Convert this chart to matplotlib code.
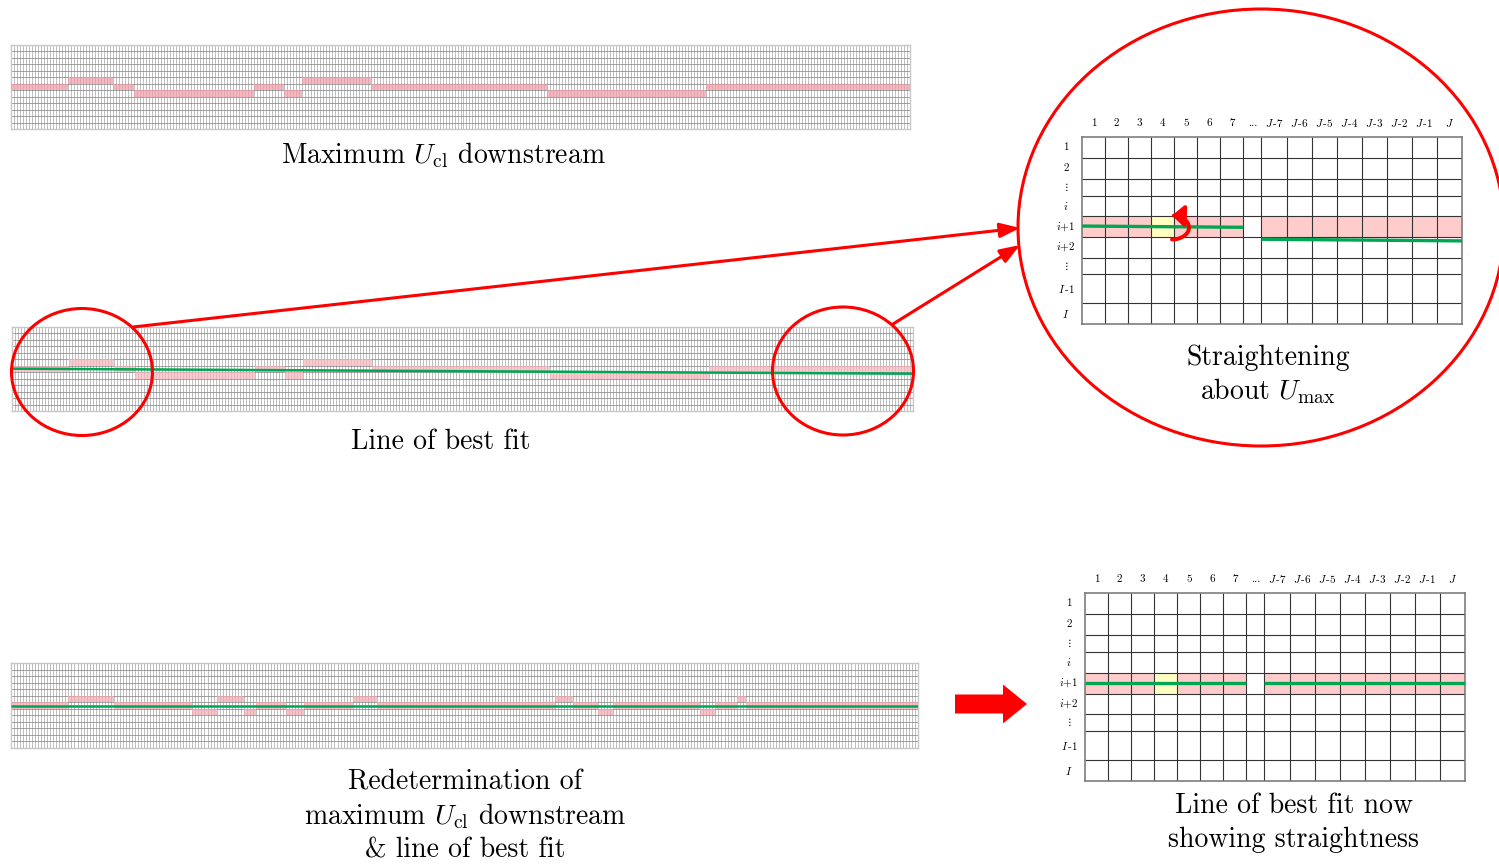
import numpy as np
import matplotlib
matplotlib.use("Agg")
import matplotlib.pyplot as plt
from matplotlib.patches import Ellipse, FancyArrowPatch, FancyArrow, Rectangle
from matplotlib.path import Path

plt.rcParams['font.family'] = 'cmr10'
plt.rcParams['mathtext.fontset'] = 'cm'
plt.rcParams['axes.unicode_minus'] = False

# ---- data ----
n_cols = 300
n_rows = 13

# row of max U_cl for runs of columns (0 = centre row, +1 one above, -1 one below)
umax_breaks = [0, 19, 34, 41, 81, 91, 97, 120, 179, 232, 300]
umax_levels = [0, 1, 0, -1, 0, -1, 1, 0, -1, 0]
fit1 = [0.05, -0.73]          # best fit, row offset at first / last column

# after straightening
umax2_breaks = [0, 19, 34, 60, 68, 77, 81, 91, 97, 113, 121, 180, 186, 194,
                199, 228, 233, 240, 243, 300]
umax2_levels = [0, 1, 0, -1, 1, -1, 0, -1, 0, 1, 0, 1, 0, -1, 0, -1, 0, 1, 0]
fit2 = [0.0, 0.0]

# detail grids
col_labels = ['1', '2', '3', '4', '5', '6', '7', '...',
              r'$J\,$-7', r'$J\,$-6', r'$J\,$-5', r'$J\,$-4', r'$J\,$-3', r'$J\,$-2',
              r'$J\,$-1', r'$J$']
row_labels = ['1', '2', r'$\vdots$', r'$i$', r'$i$+1', r'$i$+2', r'$\vdots$',
              r'$I\,$-1', r'$I$']
band_row = 4
yellow_col = 3
gap_col = 7
fit_before = [[4.47, 4.53], [5.11, 5.19]]   # row position, left part / right part
fit_after = [[4.5, 4.5], [4.5, 4.5]]

# ---- layout ----
W, H = 1499, 864
col_w = [23] * 7 + [18] + [25] * 8
row_h = [21, 21, 17, 20.7, 20.7, 20.7, 16.7, 29.3, 20.7]
green = '#00a651'

fig = plt.figure(figsize=(W / 100, H / 100), dpi=100)


def px_axes(x0, y0, x1, y1):
    return fig.add_axes([x0 / W, 1 - y1 / H, (x1 - x0) / W, (y1 - y0) / H])


def strip(box, breaks, levels, pink, fit=None):
    ax = px_axes(*box)
    ax.set_xlim(0, n_cols)
    ax.set_ylim(n_rows, 0)
    mid = n_rows // 2
    for a, b, lv in zip(breaks[:-1], breaks[1:], levels):
        ax.add_patch(Rectangle((a, mid - lv), b - a, 1, fc=pink, ec='none',
                               alpha=0.7, zorder=3))
    ax.vlines(np.arange(1, n_cols), 0, n_rows, color='0.6', lw=0.45, zorder=2)
    ax.hlines(np.arange(1, n_rows), 0, n_cols, color='0.5', lw=0.5, zorder=2)
    if fit is not None:
        ax.plot([0, n_cols], [mid + 0.5 - fit[0], mid + 0.5 - fit[1]],
                color=green, lw=1.8, zorder=4, solid_capstyle='butt')
    ax.set_xticks([])
    ax.set_yticks([])
    for s in ax.spines.values():
        s.set_color('0.78')
        s.set_linewidth(1.0)
    return ax


def detail(box, fits):
    ax = px_axes(*box)
    xe = np.concatenate([[0], np.cumsum(col_w)])
    ye = np.concatenate([[0], np.cumsum(row_h)])
    ax.set_xlim(0, xe[-1])
    ax.set_ylim(ye[-1], 0)
    for c in range(len(col_labels)):
        if c == gap_col:
            continue
        fc = '#ffffc2' if c == yellow_col else '#ffcccc'
        ax.add_patch(Rectangle((xe[c], ye[band_row]), col_w[c], row_h[band_row],
                               fc=fc, ec='none', zorder=1))
    ax.vlines(xe[1:-1], 0, ye[-1], color='0.2', lw=0.8, zorder=2)
    ax.hlines(ye[1:-1], 0, xe[-1], color='0.2', lw=0.8, zorder=2)
    parts = [(0, gap_col), (gap_col + 1, len(col_w))]
    for (c0, c1), (r0, r1) in zip(parts, fits):
        ax.plot([xe[c0], xe[c1]], np.interp([r0, r1], np.arange(len(ye)), ye),
                color=green, lw=2.4, zorder=3, solid_capstyle='butt')
    for c, lab in enumerate(col_labels):
        ax.text((xe[c] + xe[c + 1]) / 2, -14, lab, ha='center', va='center',
                fontsize=8, clip_on=False)
    for r, lab in enumerate(row_labels):
        ax.text(-16, (ye[r] + ye[r + 1]) / 2, lab, ha='center', va='center',
                fontsize=8, clip_on=False)
    ax.set_xticks([])
    ax.set_yticks([])
    for s in ax.spines.values():
        s.set_color('0.45')
        s.set_linewidth(1.1)
    return ax


strip((11, 45, 910, 129), umax_breaks, umax_levels, '#f29aa6')
strip((12, 327, 913, 411), umax_breaks, umax_levels, '#f7b4bd', fit1)
strip((11, 663, 918, 748), umax2_breaks, umax2_levels, '#f5a8b2', fit2)
detail((1082, 137, 1462, 324), fit_before)
detail((1085, 593, 1465, 781), fit_after)

# ---- overlay: circles, arrows, captions ----
ov = fig.add_axes([0, 0, 1, 1])
ov.set_xlim(0, W)
ov.set_ylim(H, 0)
ov.axis('off')
ov.patch.set_alpha(0)

for cx, cy, w, h in [(82, 372, 141, 127), (843, 371, 141, 128), (1261, 227.5, 486, 437)]:
    ov.add_patch(Ellipse((cx, cy), w, h, fill=False, ec='red', lw=2.2, clip_on=False))

for p0, p1 in [((133, 327), (1020, 228)), ((893, 324), (1020, 245))]:
    ov.add_patch(FancyArrowPatch(p0, p1, arrowstyle='-|>,head_length=0.6,head_width=0.22',
                                 mutation_scale=20, color='red', lw=2.2,
                                 shrinkA=0, shrinkB=0))

# rotation arrow about U_max (half loop bulging right, head at the top)
t = np.linspace(np.pi / 2, -np.pi / 2, 30)
loop = Path(np.column_stack([1172 + 17 * np.cos(t), 227.5 + 12 * np.sin(t)]))
ov.add_patch(FancyArrowPatch(path=loop,
                             arrowstyle='-|>,head_length=0.45,head_width=0.4',
                             mutation_scale=16, color='red', lw=2.8))

ov.add_patch(FancyArrow(955, 704, 72, 0, width=19, head_width=39, head_length=24,
                        length_includes_head=True, color='red', lw=0))

fs = 20
captions = [
    (443, 163, r'Maximum $U_{\rm cl}$ downstream'),
    (441, 449, 'Line of best fit'),
    (1268, 365, 'Straightening'),
    (1268, 399, r'about $U_{\max}$'),
    (465, 789, 'Redetermination of'),
    (465, 824, r'maximum $U_{\rm cl}$ downstream'),
    (465, 858, '& line of best fit'),
    (1294, 813, 'Line of best fit now'),
    (1294, 847, 'showing straightness'),
]
for x, y, t in captions:
    ov.text(x, y, t, ha='center', va='baseline', fontsize=fs)

fig.savefig('out.png', dpi=100)
